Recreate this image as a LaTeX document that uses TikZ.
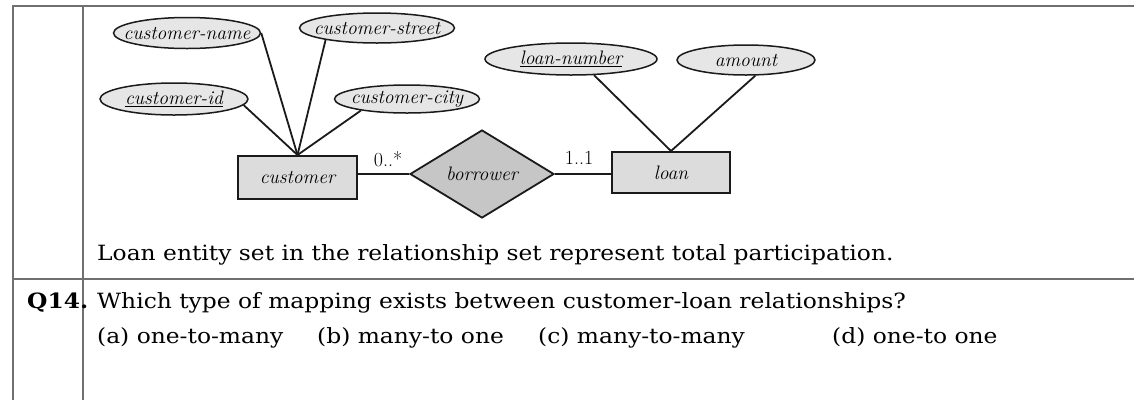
\documentclass[tikz,border=0pt]{standalone}
\usepackage{fontspec}
\newfontfamily\bodyfont[FakeStretch=1.113]{DejaVu Serif}
\usetikzlibrary{shapes.geometric,calc}
\definecolor{attrfill}{HTML}{E6E6E6}
\definecolor{entfill}{HTML}{DCDCDC}
\definecolor{relfill}{HTML}{C6C6C6}
\definecolor{inkline}{HTML}{1A1A1A}
\definecolor{gridline}{HTML}{707070}
\newcommand{\diagfont}{\fontsize{19.5}{22}\selectfont\itshape}
\newcommand{\cardfont}{\fontsize{20}{22}\selectfont}
\newcommand{\txtfont}{\bodyfont\fontsize{21}{24}\selectfont}
\newcommand{\zw}[1]{\makebox[0pt]{#1}}
\tikzset{
  attr/.style={ellipse, draw=inkline, line width=1.5pt, fill=attrfill, inner sep=0pt, font=\diagfont},
  ent/.style={rectangle, draw=inkline, line width=2pt, fill=entfill, inner sep=0pt, font=\diagfont},
  rel/.style={diamond, draw=inkline, line width=1.8pt, fill=relfill, inner sep=0pt, font=\diagfont},
  conn/.style={draw=inkline, line width=1.8pt},
  card/.style={inner sep=0pt, font=\cardfont},
  body/.style={anchor=base west, inner sep=0pt, font=\txtfont},
  grid/.style={draw=gridline, line width=1.6pt}
}
\begin{document}
\begin{tikzpicture}[x=1pt,y=-1pt]
\useasboundingbox (0,0) rectangle (1134,400);
% table rules
\coordinate (tl) at (13,6);
\coordinate (tr) at (1134,6);
\coordinate (dt) at (83,6);
\coordinate (bl) at (13,400);
\coordinate (db) at (83,400);
\coordinate (ml) at (13,279);
\coordinate (mr) at (1134,279);
\draw[grid] (tr) -- (tl) -- (bl);
\draw[grid] (dt) -- (db);
\draw[grid] (ml) -- (mr);

% ER diagram
\node[attr, minimum width=147pt, minimum height=31pt] (cname) at (187,33) {\zw{customer-name}};
\node[attr, minimum width=155pt, minimum height=30pt] (cstreet) at (377,28) {\zw{customer-street}};
\node[attr, minimum width=148pt, minimum height=32pt] (cid) at (174,99) {\zw{\underline{customer-id}}};
\node[attr, minimum width=145pt, minimum height=28pt] (ccity) at (407,99) {\zw{customer-city}};
\node[attr, minimum width=172pt, minimum height=32pt] (lnum) at (571,59) {\zw{\underline{loan-number}}};
\node[attr, minimum width=138pt, minimum height=30pt] (amt) at (746,60) {\zw{amount}};

\node[ent, minimum width=119pt, minimum height=43pt] (cust) at (297.5,177.5) {customer};
\node[ent, minimum width=118pt, minimum height=41pt] (loan) at (671,172.5) {loan};
\node[rel, minimum width=144pt, minimum height=88pt] (borr) at (482,174) {\zw{borrower}};

\draw[conn] (cname.east) -- (cust.north);
\draw[conn] (cstreet.193) -- (cust.north);
\draw[conn] (cid.-5) -- (cust.north);
\draw[conn] (ccity.194) -- (cust.north);
\draw[conn] (lnum.-35) -- (loan.north);
\draw[conn] (amt.-59) -- (loan.north);
\draw[conn] (borr.west) -- (borr.west -| cust.east);
\draw[conn] (borr.east) -- (borr.east -| loan.west);

\node[card] (c1) at (388,159) {0..*};
\node[card] (c2) at (579,158) {1..1};

% text
\node[body] (s1) at (97,260) {Loan entity set in the relationship set represent total participation.};
\node[body, font=\txtfont\bfseries] (q) at (27,308) {Q14.};
\node[body] (s2) at (97,308) {Which type of mapping exists between customer-loan relationships?};
\node[body] (oa) at (97,343) {(a) one-to-many};
\node[body] (ob) at (317,343) {(b) many-to one};
\node[body] (oc) at (538,343) {(c) many-to-many};
\node[body] (od) at (832,343) {(d) one-to one};
\end{tikzpicture}
\end{document}
